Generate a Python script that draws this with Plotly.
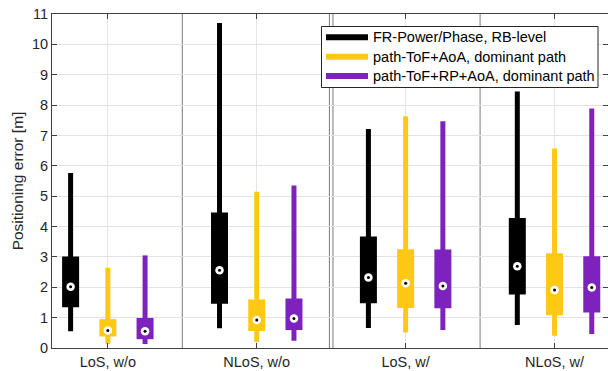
import plotly.graph_objects as go

categories = ["LoS, w/o", "NLoS, w/o", "LoS, w/", "NLoS, w/"]
series_names = [
    "FR-Power/Phase, RB-level",
    "path-ToF+AoA, dominant path",
    "path-ToF+RP+AoA, dominant path",
]
series_colors = ["#000000", "#FFC815", "#7E22BE"]
series_offsets = [-0.25, 0.0, 0.25]

# FR-Power/Phase, RB-level
fr_low = [0.55, 0.65, 0.66, 0.76]
fr_q1 = [1.34, 1.46, 1.47, 1.76]
fr_med = [2.02, 2.56, 2.32, 2.69]
fr_q3 = [3.01, 4.46, 3.67, 4.28]
fr_high = [5.76, 10.70, 7.21, 8.45]

# path-ToF+AoA, dominant path
tof_low = [0.13, 0.20, 0.51, 0.40]
tof_q1 = [0.38, 0.56, 1.32, 1.08]
tof_med = [0.58, 0.92, 2.13, 1.91]
tof_q3 = [0.95, 1.60, 3.25, 3.12]
tof_high = [2.64, 5.15, 7.63, 6.57]

# path-ToF+RP+AoA, dominant path
rp_low = [0.13, 0.24, 0.59, 0.46]
rp_q1 = [0.29, 0.59, 1.31, 1.17]
rp_med = [0.55, 0.97, 2.04, 1.99]
rp_q3 = [0.99, 1.63, 3.24, 3.02]
rp_high = [3.05, 5.35, 7.47, 7.89]

series_stats = [
    (fr_low, fr_q1, fr_med, fr_q3, fr_high),
    (tof_low, tof_q1, tof_med, tof_q3, tof_high),
    (rp_low, rp_q1, rp_med, rp_q3, rp_high),
]

W, H = 608, 371
ML, MR, MT, MB = 52, 0, 14, 23
PW, PH = W - ML - MR, H - MT - MB


def px_x(px):
    return (px - ML) / PW


def px_y(py):
    return (H - MB - py) / PH


fig = go.Figure()

for name, color, off, (lo, q1, med, q3, hi) in zip(
    series_names, series_colors, series_offsets, series_stats
):
    xs = [i + 1 + off for i in range(len(categories))]
    wx, wy, bx, by = [], [], [], []
    for x, a, b, c, d in zip(xs, lo, q1, q3, hi):
        wx += [x, x, None]
        wy += [a, d, None]
        bx += [x, x, None]
        by += [b, c, None]
    fig.add_trace(go.Scatter(x=wx, y=wy, mode="lines", name=name,
                             line=dict(color=color, width=5),
                             hoverinfo="skip", showlegend=False))
    fig.add_trace(go.Scatter(x=bx, y=by, mode="lines", showlegend=False,
                             line=dict(color=color, width=17),
                             hoverinfo="skip"))
    fig.add_trace(go.Scatter(x=xs, y=med, mode="markers", showlegend=False,
                             name=name,
                             marker=dict(color="white", size=8.5, line=dict(width=0))))
    fig.add_trace(go.Scatter(x=xs, y=med, mode="markers", showlegend=False,
                             marker=dict(color="black", size=3, line=dict(width=0)),
                             hoverinfo="skip"))

# group separators
shapes = []
for i in range(len(categories) - 1):
    b = i + 1.5
    pos = [b - 0.012, b + 0.012] if i == 1 else [b]
    for p in pos:
        shapes.append(dict(type="line", xref="x", yref="paper", x0=p, x1=p,
                           y0=0, y1=1, line=dict(color="#7a7a7a", width=1),
                           layer="below"))

# legend box (drawn as shapes + text annotations)
annotations = []
shapes.append(dict(type="rect", xref="paper", yref="paper",
                   x0=px_x(321.5), x1=px_x(598), y0=px_y(87.5), y1=px_y(26.5),
                   line=dict(color="#262626", width=1), fillcolor="white",
                   layer="above"))
row_y = [37.3, 56.7, 76.0]
for name, color, ry in zip(series_names, series_colors, row_y):
    shapes.append(dict(type="line", xref="paper", yref="paper",
                       x0=px_x(326), x1=px_x(368), y0=px_y(ry), y1=px_y(ry),
                       line=dict(color=color, width=6), layer="above"))
    annotations.append(dict(xref="paper", yref="paper", x=px_x(371), y=px_y(ry),
                            xanchor="left", yanchor="middle", showarrow=False,
                            text=name, font=dict(size=14.5, color="#000000")))

fig.update_layout(
    width=W, height=H,
    margin=dict(l=ML, r=MR, t=MT, b=MB),
    plot_bgcolor="white", paper_bgcolor="white",
    font=dict(family="Liberation Sans, Arial, sans-serif", size=14.5, color="#262626"),
    shapes=shapes, annotations=annotations,
    showlegend=False,
)
fig.update_xaxes(
    range=[0.625, 0.625 + 556 / 148.9],
    tickvals=[i + 1 for i in range(len(categories))], ticktext=categories,
    ticks="inside", ticklen=5, tickcolor="#404040",
    ticklabelstandoff=1,
    showgrid=True, gridcolor="#e3e3e3", gridwidth=1,
    showline=True, linecolor="#404040", linewidth=1, mirror="ticks",
    zeroline=False, automargin=False,
)
fig.update_yaxes(
    range=[0, 11], dtick=1,
    ticks="inside", ticklen=5, tickcolor="#404040",
    showgrid=True, gridcolor="#e3e3e3", gridwidth=1,
    showline=True, linecolor="#404040", linewidth=1, mirror="ticks",
    zeroline=False, automargin=False,
    title=dict(text="Positioning error [m]", font=dict(size=15.5), standoff=4),
)

fig.write_html("out.html", config={"displayModeBar": False},
               post_script="document.body.style.margin='0';document.body.style.padding='0';document.body.style.overflow='hidden';")
